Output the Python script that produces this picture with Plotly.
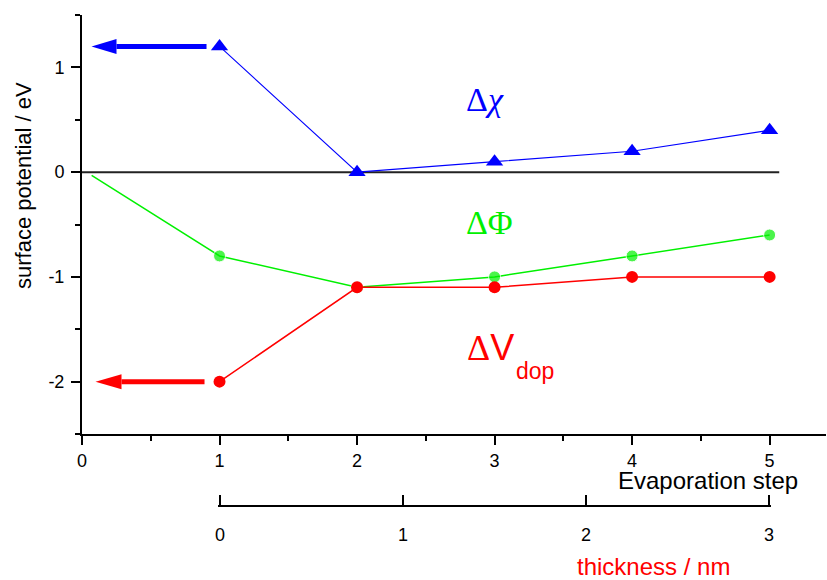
import plotly.graph_objects as go

# Evaporation steps and surface potential changes (eV)
steps = [1, 2, 3, 4, 5]
d_chi = [1.2, 0.0, 0.1, 0.2, 0.4]          # Δχ
phi_start = (0.07, -0.03)                   # start of ΔΦ line (no symbol)
d_phi = [-0.8, -1.1, -1.0, -0.8, -0.6]      # ΔΦ
d_vdop = [-2.0, -1.1, -1.1, -1.0, -1.0]     # ΔV_dop

step_ticks = [0, 1, 2, 3, 4, 5]
potential_ticks = [-2, -1, 0, 1]
potential_labels = ["-2", "-1", "0", "1"]
thickness_ticks = [0, 1, 2, 3]               # nm, aligned with steps 1..5

BLUE = "#0000ff"
GREEN = "#00f000"
RED = "#ff0000"
SANS = "Liberation Sans, Arial, sans-serif"
SERIF = "Liberation Serif, Times New Roman, serif"

W, H = 827, 580
ML, MR, MT, MB = 82, 1, 15, 20
PLOT_W = W - ML - MR
PAPER_H = H - MT - MB
AX_BOTTOM_PX = 434
THICK_AXIS_PX = 506
THICK_PAD = 0.011   # small overhang so the end ticks of the thickness axis are drawn


def py(px):
    """Paper y fraction from a page pixel row."""
    return (H - MB - px) / PAPER_H


def pxf(px):
    """Paper x fraction from a page pixel column."""
    return (px - ML) / PLOT_W


fig = go.Figure()

fig.add_trace(go.Scatter(
    x=steps, y=d_chi, mode="lines+markers",
    line=dict(color=BLUE, width=1.1),
    marker=dict(symbol="triangle-up", size=15, color=BLUE),
    showlegend=False, cliponaxis=False,
))
fig.add_trace(go.Scatter(
    x=[phi_start[0]] + steps, y=[phi_start[1]] + d_phi, mode="lines+markers",
    line=dict(color=GREEN, width=1.5),
    marker=dict(symbol="circle", size=[0] + [12] * len(steps), color=GREEN),
    showlegend=False, cliponaxis=False,
))
fig.add_trace(go.Scatter(
    x=steps, y=d_vdop, mode="lines+markers",
    line=dict(color=RED, width=1.5),
    marker=dict(symbol="circle", size=12, color=RED),
    showlegend=False, cliponaxis=False,
))
# empty trace keeps the thickness axis attached
fig.add_trace(go.Scatter(x=[None], y=[None], xaxis="x2", yaxis="y",
                         showlegend=False, hoverinfo="skip"))

shapes = [
    # zero line
    dict(type="line", xref="x", yref="y", x0=0, x1=5.07, y0=0, y1=0,
         line=dict(color="#222222", width=2), layer="below"),
]


def arrow(x, y, color, s0, s1, tip):
    shapes.append(dict(type="line", xref="x", yref="y",
                       xsizemode="pixel", ysizemode="pixel",
                       xanchor=x, yanchor=y, x0=-s0, x1=-s1, y0=0, y1=0,
                       line=dict(color=color, width=5)))
    shapes.append(dict(type="path", xref="x", yref="y",
                       xsizemode="pixel", ysizemode="pixel",
                       xanchor=x, yanchor=y,
                       path=f"M{-s1},-7.5 L{-tip},0 L{-s1},7.5 Z",
                       fillcolor=color, line=dict(width=0)))


arrow(steps[0], d_chi[0], BLUE, 13, 103, 128)
arrow(steps[0], d_vdop[0], RED, 15, 98, 124)


def label(text, x, y, size, color, family=SANS, xref="paper", yref="paper",
          xanchor="center", yanchor="middle", angle=0):
    return dict(text=text, x=x, y=y, xref=xref, yref=yref, showarrow=False,
                xanchor=xanchor, yanchor=yanchor, textangle=angle,
                font=dict(family=family, size=size, color=color))


annotations = [
    label("Δ<i>χ</i>", 2.93, 0.69, 34, BLUE, SERIF, "x", "y"),
    label("ΔΦ", 2.96, -0.48, 34, GREEN, SERIF, "x", "y"),
    label("<span style='font-family:Liberation Serif'>Δ</span>V",
          2.785, -1.67, 36, RED, SANS, "x", "y", xanchor="left"),
    label("dop", 3.14, -1.90, 23, RED, SANS, "x", "y", xanchor="left"),
    label("Evaporation step", pxf(708), py(481), 24, "black"),
    label("thickness / nm", pxf(653), py(566), 24, RED),
    label("surface potential / eV", pxf(24), py(186), 22, "black", angle=-90),
]

axis_common = dict(showline=True, linecolor="black", linewidth=2,
                   ticks="outside", tickcolor="black", tickwidth=2,
                   showgrid=False, zeroline=False,
                   tickfont=dict(family=SANS, size=18, color="black"))

# thickness axis: 0..3 nm spans the pixel columns of steps 1..5
t_lo, t_hi = thickness_ticks[0], thickness_ticks[-1]
px_lo, px_hi = 220, 769
px_per_nm = (px_hi - px_lo) / (t_hi - t_lo)

fig.update_layout(
    width=W, height=H,
    margin=dict(l=ML, r=MR, t=MT, b=MB, autoexpand=False),
    paper_bgcolor="white", plot_bgcolor="rgba(0,0,0,0)",
    xaxis=dict(range=[0, 5.41], tickvals=step_ticks, ticklen=9,
               minor=dict(dtick=0.5, ticklen=5, ticks="outside",
                          tickcolor="black", tickwidth=2),
               anchor="y", **axis_common),
    yaxis=dict(range=[-2.5, 1.5], tickvals=potential_ticks,
               ticktext=potential_labels, ticklen=9, ticklabelstandoff=3,
               domain=[py(AX_BOTTOM_PX), 1],
               minor=dict(tick0=0, dtick=0.5, ticklen=5, ticks="outside",
                          tickcolor="black", tickwidth=2),
               **axis_common),
    xaxis2=dict(range=[t_lo - THICK_PAD, t_hi + THICK_PAD],
                tickvals=thickness_ticks,
                domain=[pxf(px_lo - THICK_PAD * px_per_nm),
                        pxf(px_hi + THICK_PAD * px_per_nm)],
                anchor="free", position=py(THICK_AXIS_PX),
                showline=True, linecolor="black", linewidth=2,
                ticks="inside", ticklen=10, tickcolor="black", tickwidth=2,
                ticklabelstandoff=12,
                showgrid=False, zeroline=False,
                tickfont=dict(family=SANS, size=18, color="black")),
    shapes=shapes,
    annotations=annotations,
)

fig.write_html("out.html")
